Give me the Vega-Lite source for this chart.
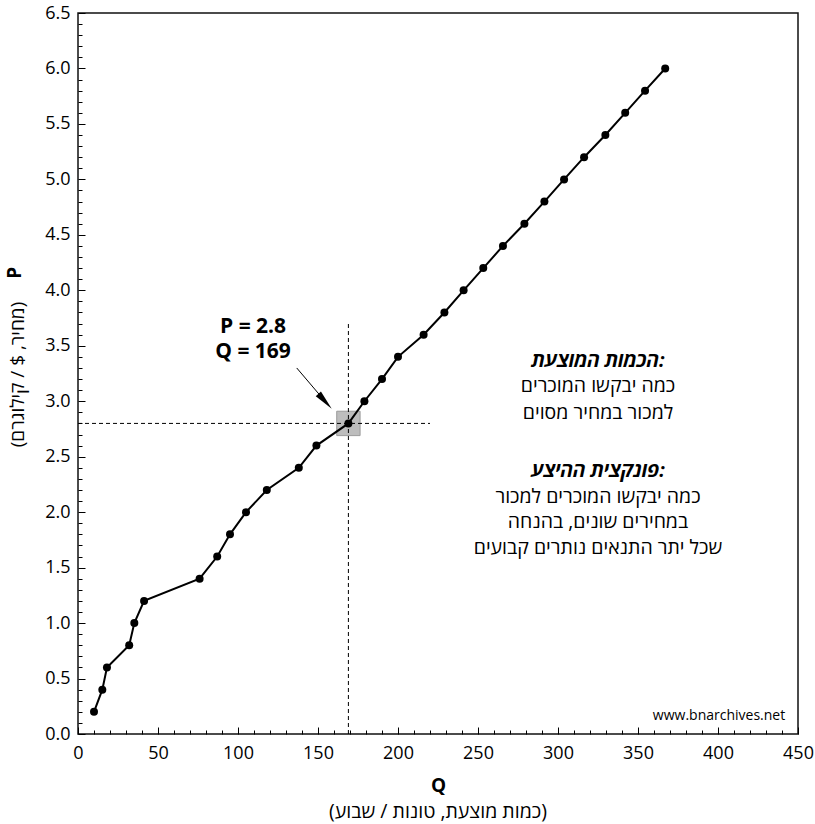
{
  "$schema": "https://vega.github.io/schema/vega-lite/v6.json",
  "width": 720,
  "height": 721,
  "autosize": {"type": "none"},
  "padding": {"left": 78, "top": 13, "right": 17, "bottom": 90},
  "background": "white",
  "config": {
    "font": "Open Sans",
    "view": {"stroke": "#111", "strokeWidth": 1.5},
    "axis": {"domain": false, "grid": false, "tickColor": "black", "tickWidth": 1, "labelColor": "black", "labelFont": "Open Sans", "labelFontSize": 18, "titleColor": "black", "titleFont": "Open Sans"}
  },
  "title": {
    "text": "(כמות מוצעת, טונות / שבוע)",
    "orient": "bottom",
    "anchor": "middle",
    "fontSize": 19.5,
    "fontWeight": "normal",
    "font": "Open Sans",
    "color": "black",
    "offset": 8
  },
  "datasets": {
    "supply": [
      {"Q": 10, "P": 0.2}, {"Q": 15.2, "P": 0.4}, {"Q": 18.1, "P": 0.6}, {"Q": 32, "P": 0.8},
      {"Q": 35.2, "P": 1.0}, {"Q": 41.3, "P": 1.2}, {"Q": 76, "P": 1.4}, {"Q": 87, "P": 1.6},
      {"Q": 95, "P": 1.8}, {"Q": 105, "P": 2.0}, {"Q": 118, "P": 2.2}, {"Q": 138, "P": 2.4},
      {"Q": 149, "P": 2.6}, {"Q": 169, "P": 2.8}, {"Q": 179, "P": 3.0}, {"Q": 190, "P": 3.2},
      {"Q": 200, "P": 3.4}, {"Q": 216, "P": 3.6}, {"Q": 229, "P": 3.8}, {"Q": 241, "P": 4.0},
      {"Q": 253.3, "P": 4.2}, {"Q": 265.6, "P": 4.4}, {"Q": 279, "P": 4.6}, {"Q": 291.5, "P": 4.8},
      {"Q": 303.8, "P": 5.0}, {"Q": 316.3, "P": 5.2}, {"Q": 329.6, "P": 5.4}, {"Q": 342, "P": 5.6},
      {"Q": 354.4, "P": 5.8}, {"Q": 367, "P": 6.0}
    ],
    "box": [{"Q": 161.7, "Q2": 176.3, "P": 2.69, "P2": 2.91}],
    "guides": [
      {"Q": 169, "P": 0, "Q2": 169, "P2": 3.7},
      {"Q": 0, "P": 2.8, "Q2": 220, "P2": 2.8}
    ],
    "arrowLine": [{"Q": 136.7, "P": 3.3, "Q2": 154.4, "P2": 3.0}],
    "arrowHead": [{"Q": 154.4, "P": 3.0}],
    "eq": [
      {"Q": 109.4, "P": 3.67, "label": "P = 2.8"},
      {"Q": 109.4, "P": 3.44, "label": "Q = 169"}
    ],
    "heads": [
      {"Q": 325, "P": 3.36, "label": "הכמות המוצעת:"},
      {"Q": 325, "P": 2.371, "label": "פונקצית ההיצע:"}
    ],
    "body": [
      {"Q": 325, "P": 3.135, "label": "כמה יבקשו המוכרים"},
      {"Q": 325, "P": 2.895, "label": "למכור במחיר מסוים"},
      {"Q": 325, "P": 2.137, "label": "כמה יבקשו המוכרים למכור"},
      {"Q": 325, "P": 1.912, "label": "במחירים שונים, בהנחה"},
      {"Q": 325, "P": 1.677, "label": "שכל יתר התנאים נותרים קבועים"}
    ],
    "wm": [{"Q": 442, "P": 0.162, "label": "www.bnarchives.net"}],
    "ptitle": [{"Q": -39.4, "P": 4.157, "label": "P"}]
  },
  "encoding": {
    "x": {
      "field": "Q", "type": "quantitative",
      "scale": {"domain": [0, 450], "nice": false, "zero": false},
      "axis": {
        "values": [0,10,20,30,40,50,60,70,80,90,100,110,120,130,140,150,160,170,180,190,200,210,220,230,240,250,260,270,280,290,300,310,320,330,340,350,360,370,380,390,400,410,420,430,440,450],
        "labelExpr": "datum.value % 50 === 0 ? datum.label : ''",
        "tickSize": {"condition": {"test": "datum.value % 50 === 0", "value": -7}, "value": -4},
        "labelPadding": 17,
        "labelFlush": false,
        "title": "Q",
        "titleFontSize": 19,
        "titleFontWeight": "bold",
        "titleY": 51,
        "titleBaseline": "middle"
      }
    },
    "y": {
      "field": "P", "type": "quantitative",
      "scale": {"domain": [0, 6.5], "nice": false, "zero": false},
      "axis": {
        "values": [0,0.1,0.2,0.3,0.4,0.5,0.6,0.7,0.8,0.9,1,1.1,1.2,1.3,1.4,1.5,1.6,1.7,1.8,1.9,2,2.1,2.2,2.3,2.4,2.5,2.6,2.7,2.8,2.9,3,3.1,3.2,3.3,3.4,3.5,3.6,3.7,3.8,3.9,4,4.1,4.2,4.3,4.4,4.5,4.6,4.7,4.8,4.9,5,5.1,5.2,5.3,5.4,5.5,5.6,5.7,5.8,5.9,6,6.1,6.2,6.3,6.4,6.5],
        "labelExpr": "abs(datum.value * 2 - round(datum.value * 2)) < 0.01 ? format(datum.value, '.1f') : ''",
        "tickSize": {"condition": {"test": "abs(datum.value * 2 - round(datum.value * 2)) < 0.01", "value": -7}, "value": -4},
        "labelPadding": 15,
        "labelFlush": false,
        "title": "(מחיר, $ / קילוגרם)",
        "titleFontSize": 19,
        "titleFontWeight": "normal",
        "titleAngle": 270,
        "titleX": -61,
        "titleY": 361,
        "titleAlign": "center",
        "titleBaseline": "middle"
      }
    }
  },
  "layer": [
    {
      "data": {"name": "box"},
      "mark": {"type": "rect", "fill": "#bdbdbd", "stroke": "#9a9a9a", "strokeWidth": 1},
      "encoding": {"x2": {"field": "Q2"}, "y2": {"field": "P2"}}
    },
    {
      "data": {"name": "guides"},
      "mark": {"type": "rule", "color": "black", "strokeWidth": 1, "strokeDash": [4, 3]},
      "encoding": {"x2": {"field": "Q2"}, "y2": {"field": "P2"}}
    },
    {
      "data": {"name": "arrowLine"},
      "mark": {"type": "rule", "color": "black", "strokeWidth": 1},
      "encoding": {"x2": {"field": "Q2"}, "y2": {"field": "P2"}}
    },
    {
      "data": {"name": "arrowHead"},
      "mark": {"type": "point", "shape": "M0,-1L0.35,1L-0.35,1Z", "size": 400, "filled": true, "color": "black", "opacity": 1, "angle": 138}
    },
    {
      "data": {"name": "supply"},
      "mark": {"type": "line", "color": "black", "strokeWidth": 2},
      "encoding": {"order": {"field": "P", "type": "quantitative"}}
    },
    {
      "data": {"name": "supply"},
      "mark": {"type": "circle", "color": "black", "opacity": 1, "size": 64}
    },
    {
      "data": {"name": "eq"},
      "mark": {"type": "text", "font": "Open Sans", "fontSize": 21, "fontWeight": "bold", "color": "black", "align": "center", "baseline": "middle"},
      "encoding": {"text": {"field": "label"}}
    },
    {
      "data": {"name": "heads"},
      "mark": {"type": "text", "font": "Open Sans", "fontSize": 19.5, "fontWeight": "bold", "fontStyle": "italic", "color": "black", "align": "center", "baseline": "middle"},
      "encoding": {"text": {"field": "label"}}
    },
    {
      "data": {"name": "body"},
      "mark": {"type": "text", "font": "Open Sans", "fontSize": 19.5, "color": "black", "align": "center", "baseline": "middle"},
      "encoding": {"text": {"field": "label"}}
    },
    {
      "data": {"name": "wm"},
      "mark": {"type": "text", "font": "Open Sans", "fontSize": 14, "color": "black", "align": "right", "baseline": "middle"},
      "encoding": {"text": {"field": "label"}}
    },
    {
      "data": {"name": "ptitle"},
      "mark": {"type": "text", "font": "Open Sans", "fontSize": 19, "fontWeight": "bold", "color": "black", "align": "center", "baseline": "middle", "angle": 270},
      "encoding": {"text": {"field": "label"}}
    }
  ]
}
